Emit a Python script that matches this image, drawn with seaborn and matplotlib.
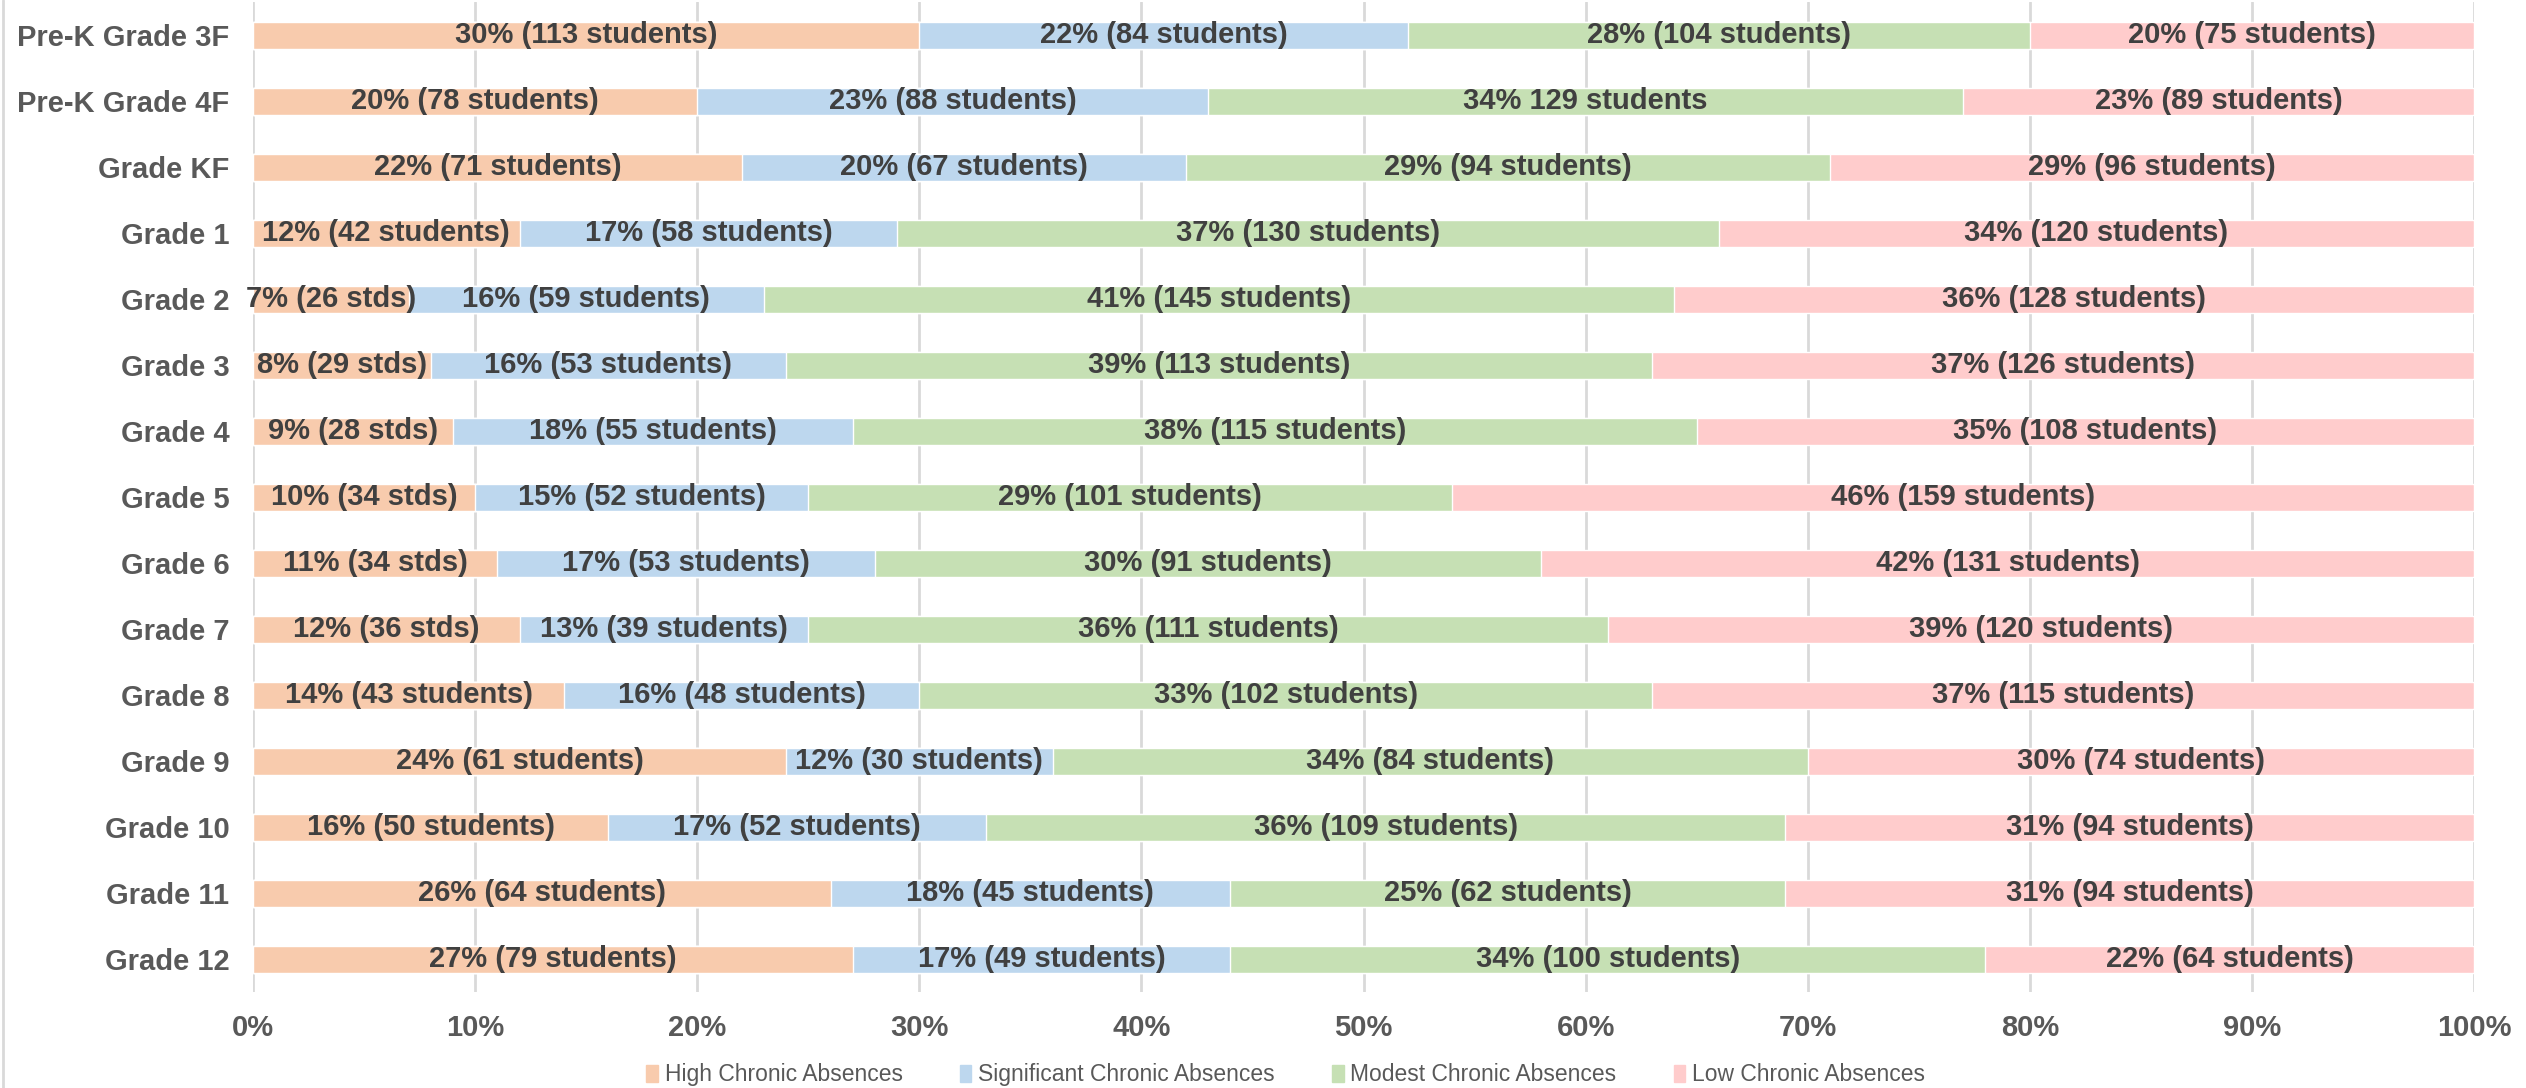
import numpy as np
import pandas as pd
import matplotlib
matplotlib.use("Agg")
import matplotlib.pyplot as plt
import matplotlib.patches as mpatches
from matplotlib.lines import Line2D
import seaborn as sns

grades = ["Pre-K Grade 3F", "Pre-K Grade 4F", "Grade KF", "Grade 1", "Grade 2", "Grade 3",
          "Grade 4", "Grade 5", "Grade 6", "Grade 7", "Grade 8", "Grade 9", "Grade 10",
          "Grade 11", "Grade 12"]
series = ["High Chronic Absences", "Significant Chronic Absences",
          "Modest Chronic Absences", "Low Chronic Absences"]

high_pct = [30, 20, 22, 12, 7, 8, 9, 10, 11, 12, 14, 24, 16, 26, 27]
sig_pct = [22, 23, 20, 17, 16, 16, 18, 15, 17, 13, 16, 12, 17, 18, 17]
mod_pct = [28, 34, 29, 37, 41, 39, 38, 29, 30, 36, 33, 34, 36, 25, 34]
low_pct = [20, 23, 29, 34, 36, 37, 35, 46, 42, 39, 37, 30, 31, 31, 22]

high_n = [113, 78, 71, 42, 26, 29, 28, 34, 34, 36, 43, 61, 50, 64, 79]
sig_n = [84, 88, 67, 58, 59, 53, 55, 52, 53, 39, 48, 30, 52, 45, 49]
mod_n = [104, 129, 94, 130, 145, 113, 115, 101, 91, 111, 102, 84, 109, 62, 100]
low_n = [75, 89, 96, 120, 128, 126, 108, 159, 131, 120, 115, 74, 94, 94, 64]

# high-absence labels that were shortened to "stds" on the original
short_unit_rows = ["Grade 2", "Grade 3", "Grade 4", "Grade 5", "Grade 6", "Grade 7"]
label_overrides = {("Pre-K Grade 4F", "Modest Chronic Absences"): "34% 129 students"}

colors = ["#F8CBAD", "#BDD7EE", "#C6E0B4", "#FFCCCC"]

pcts = [high_pct, sig_pct, mod_pct, low_pct]
counts = [high_n, sig_n, mod_n, low_n]

sns.set_style("white")
plt.rcParams["font.family"] = ["Liberation Sans Narrow", "Liberation Sans", "DejaVu Sans"]

fig = plt.figure(figsize=(25.26, 10.88), dpi=100)
ax = fig.add_axes([0.1002, 0.088, 0.8792, 0.910])

df = pd.DataFrame({"grade": grades})
cum = np.zeros(len(grades))
cums = []
for p in pcts:
    cum = cum + np.array(p)
    cums.append(cum.copy())

# draw cumulative totals from widest to narrowest so segments stack
for i in reversed(range(len(series))):
    df["value"] = cums[i]
    sns.barplot(data=df, x="value", y="grade", orient="h", color=colors[i],
                width=0.41, saturation=1, ax=ax, zorder=2)

for i, s in enumerate(series):
    starts = cums[i] - np.array(pcts[i])
    for j, g in enumerate(grades):
        unit = "stds" if (i == 0 and g in short_unit_rows) else "students"
        txt = label_overrides.get((g, s), f"{pcts[i][j]}% ({counts[i][j]} {unit})")
        ax.text(starts[j] + pcts[i][j] / 2, j, txt, ha="center", va="center",
                fontsize=21, fontweight="bold", color="#404040", zorder=3)

ax.set_xlim(0, 100)
ax.set_ylim(len(grades) - 0.5, -0.5)
ax.set_xticks(np.arange(0, 101, 10))
ax.set_xticklabels([f"{v}%" for v in range(0, 101, 10)])
ax.set_xlabel("")
ax.set_ylabel("")
ax.xaxis.grid(True, color="#D9D9D9", linewidth=2, zorder=0)
ax.set_axisbelow(True)
for sp in ax.spines.values():
    sp.set_visible(False)
ax.tick_params(axis="both", length=0, labelsize=21, colors="#595959")
ax.tick_params(axis="y", pad=17)
ax.tick_params(axis="x", pad=16)
for lab in ax.get_xticklabels() + ax.get_yticklabels():
    lab.set_fontweight("bold")

handles = [mpatches.Patch(color=c, label=s) for c, s in zip(colors, series)]
fig.legend(handles=handles, loc="center", bbox_to_anchor=(0.509, 0.012), ncol=4,
           frameon=False, fontsize=16.5, labelcolor="#595959", handlelength=0.5,
           handleheight=0.8, handletextpad=0.3, columnspacing=2.5)

fig.add_artist(Line2D([0.001, 0.001], [0, 1], color="#D9D9D9", linewidth=2,
                      transform=fig.transFigure))

fig.savefig("out.png", dpi=100, facecolor="white")
